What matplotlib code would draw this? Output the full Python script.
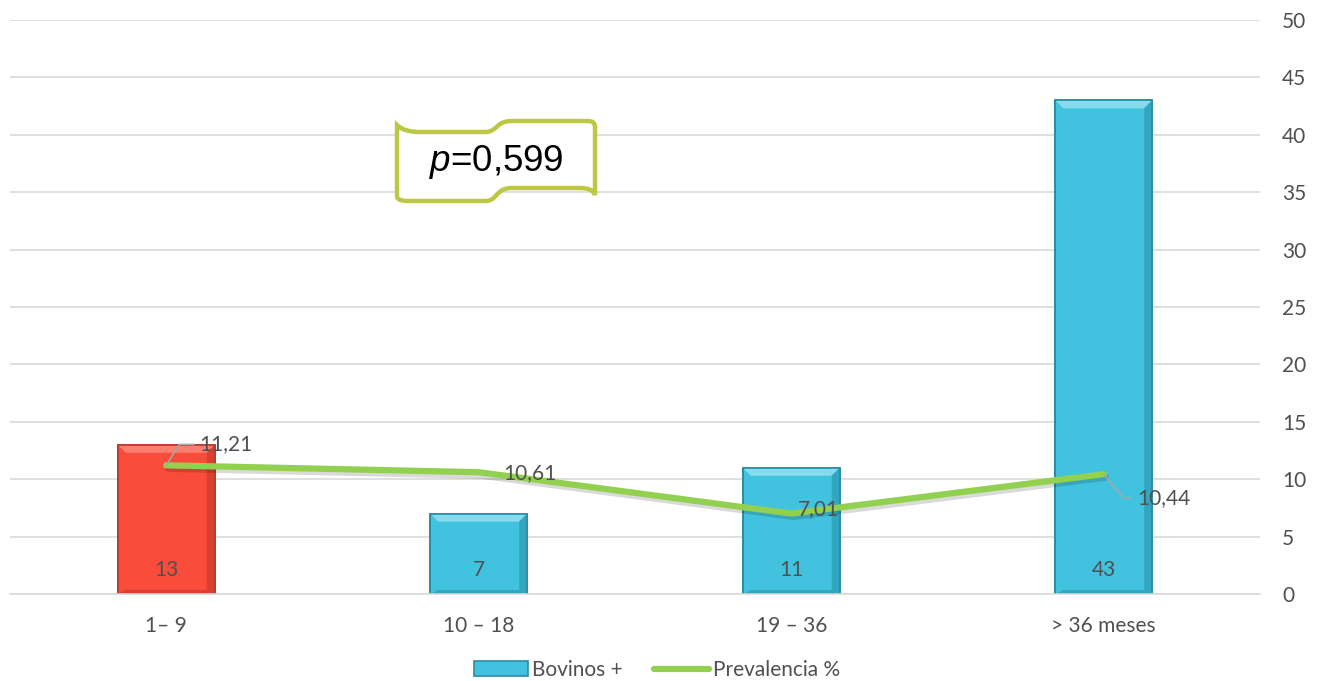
import matplotlib
matplotlib.use("Agg")
import matplotlib.pyplot as plt
from matplotlib.path import Path
from matplotlib.patches import PathPatch, Polygon, Rectangle
from matplotlib.lines import Line2D
import matplotlib.patheffects as pe

# ---- data ----
categories = ["1\u2013 9", "10 \u2013 18", "19 \u2013 36", "> 36 meses"]
bovinos = [13, 7, 11, 43]
prevalencia = [11.21, 10.61, 7.01, 10.44]
prev_labels = ["11,21", "10,61", "7,01", "10,44"]
yticks = [0, 5, 10, 15, 20, 25, 30, 35, 40, 45, 50]

plt.rcParams['font.family'] = ['Lato', 'DejaVu Sans']
plt.rcParams['mathtext.fontset'] = 'custom'
plt.rcParams['mathtext.it'] = 'Liberation Sans:italic'
plt.rcParams['mathtext.rm'] = 'Liberation Sans'

TXT = '#505050'
FS = 15
W, H = 1318, 681
fig = plt.figure(figsize=(W/100, H/100), dpi=100)
ax = fig.add_axes([10/W, 1-594/H, 1250/W, (594-20)/H])

x = list(range(len(categories)))
cyan = '#41C3E0'
red = '#F94C3A'
colors = [red, cyan, cyan, cyan]
edges = ['#B8392C', '#2A8CA3', '#2A8CA3', '#2A8CA3']
light = ['#FB7E70', '#86DCEF', '#86DCEF', '#86DCEF']
dark = ['#D8412F', '#32A6C1', '#32A6C1', '#32A6C1']

bars = ax.bar(x, bovinos, width=0.31, color=colors, edgecolor=edges, linewidth=1.2, zorder=2)
ax.set_xlim(-0.5, len(categories) - 0.5)
ax.set_ylim(0, 50)

# bevel effect
bx = 8/312.5
by = 8*50/574
for b, lc, dc in zip(bars, light, dark):
    x0, w, h = b.get_x(), b.get_width(), b.get_height()
    x1, y1 = x0 + w, h
    ax.add_patch(Polygon([(x0, y1), (x1, y1), (x1-bx, y1-by), (x0+bx, y1-by)], closed=True,
                         facecolor=lc, edgecolor='none', zorder=2.1))
    ax.add_patch(Polygon([(x1, y1), (x1, 0), (x1-bx, by*0.5), (x1-bx, y1-by)], closed=True,
                         facecolor=dc, edgecolor='none', zorder=2.1))
    ax.add_patch(Polygon([(x0, 0), (x1, 0), (x1-bx, by*0.5), (x0+bx, by*0.5)], closed=True,
                         facecolor=dc, edgecolor='none', zorder=2.1))
    ax.add_patch(Rectangle((x0, 0), w, h, facecolor='none', edgecolor=b.get_edgecolor(),
                           linewidth=1.2, zorder=2.2))

for xi, v in zip(x, bovinos):
    ax.annotate(str(v), xy=(xi, 0), xytext=(0, 17), textcoords='offset points',
                ha='center', va='center', fontsize=FS, color=TXT, zorder=5)

ax.plot(x, prevalencia, color='#92D050', linewidth=4.5, solid_capstyle='round', zorder=3,
        path_effects=[pe.SimpleLineShadow(offset=(1.5, -2.5), shadow_color='black', alpha=0.15),
                      pe.Normal()])

# line data labels
gray = '#A6A6A6'
ax.annotate(prev_labels[0], xy=(x[0], prevalencia[0]), xytext=(24, 15), textcoords='offset points',
            ha='left', va='center', fontsize=FS, color=TXT, zorder=5,
            arrowprops=dict(arrowstyle='-', color=gray, lw=1.2, shrinkA=2, shrinkB=0,
                            connectionstyle='angle,angleA=0,angleB=58,rad=0'))
ax.annotate(prev_labels[1], xy=(x[1], prevalencia[1]), xytext=(18, -1), textcoords='offset points',
            ha='left', va='center', fontsize=FS, color=TXT, zorder=5)
ax.annotate(prev_labels[2], xy=(x[2], prevalencia[2]), xytext=(5, 3), textcoords='offset points',
            ha='left', va='center', fontsize=FS, color=TXT, zorder=5)
ax.annotate(prev_labels[3], xy=(x[3], prevalencia[3]), xytext=(24, -17), textcoords='offset points',
            ha='left', va='center', fontsize=FS, color=TXT, zorder=5,
            arrowprops=dict(arrowstyle='-', color=gray, lw=1.2, shrinkA=2, shrinkB=0,
                            connectionstyle='angle,angleA=0,angleB=-50,rad=0'))

# axes styling
ax.set_yticks(yticks)
ax.yaxis.tick_right()
ax.tick_params(axis='y', length=0, pad=16, labelsize=FS, labelcolor=TXT)
ax.set_xticks(x)
ax.set_xticklabels(categories)
ax.tick_params(axis='x', length=0, pad=16, labelsize=FS, labelcolor=TXT)
for lab in ax.get_yticklabels():
    lab.set_horizontalalignment('left')
ax.grid(axis='y', color='#D9D9D9', linewidth=1.2, zorder=0)
ax.set_axisbelow(True)
for s in ['top', 'left', 'right']:
    ax.spines[s].set_visible(False)
ax.spines['bottom'].set_color('#D9D9D9')
ax.spines['bottom'].set_linewidth(1.2)

# legend
h1 = Rectangle((0, 0), 1, 1, facecolor=cyan, edgecolor='#2A8CA3', linewidth=1.2)
h2 = Line2D([0], [0], color='#92D050', linewidth=4.5, solid_capstyle='round')
fig.legend([h1, h2], ['Bovinos +', 'Prevalencia %'], loc='center', bbox_to_anchor=(657/W, 1-670/H),
           ncol=2, frameon=False, fontsize=FS, labelcolor=TXT, handlelength=2.6, handleheight=0.7,
           handletextpad=0.2, columnspacing=1.5)

# p-value banner
def P(px, py):
    return (px/W, 1-py/H)
verts = [P(397, 125),
         P(402, 130), P(410, 132), P(420, 132),
         P(485, 132),
         P(498, 132), P(495, 121), P(512, 121),
         P(588, 121),
         P(593, 121), P(595, 123), P(595, 128),
         P(595, 195),
         P(593, 190), P(588, 188), P(580, 188),
         P(512, 188),
         P(495, 188), P(498, 201), P(485, 201),
         P(410, 201),
         P(402, 201), P(397, 200), P(397, 196),
         P(397, 125)]
codes = [Path.MOVETO,
         Path.CURVE4, Path.CURVE4, Path.CURVE4,
         Path.LINETO,
         Path.CURVE4, Path.CURVE4, Path.CURVE4,
         Path.LINETO,
         Path.CURVE4, Path.CURVE4, Path.CURVE4,
         Path.LINETO,
         Path.CURVE4, Path.CURVE4, Path.CURVE4,
         Path.LINETO,
         Path.CURVE4, Path.CURVE4, Path.CURVE4,
         Path.LINETO,
         Path.CURVE4, Path.CURVE4, Path.CURVE4,
         Path.CLOSEPOLY]
banner = PathPatch(Path(verts, codes), transform=fig.transFigure, facecolor='white',
                   edgecolor='#BCC844', linewidth=3.2, zorder=6)
fig.patches.append(banner)
fig.text(496/W, 1-162/H, r'$\mathit{p}$=0,599', ha='center', va='center', fontsize=26.5,
         family='Liberation Sans', color='black', zorder=7)

fig.savefig('out.png', dpi=100)
